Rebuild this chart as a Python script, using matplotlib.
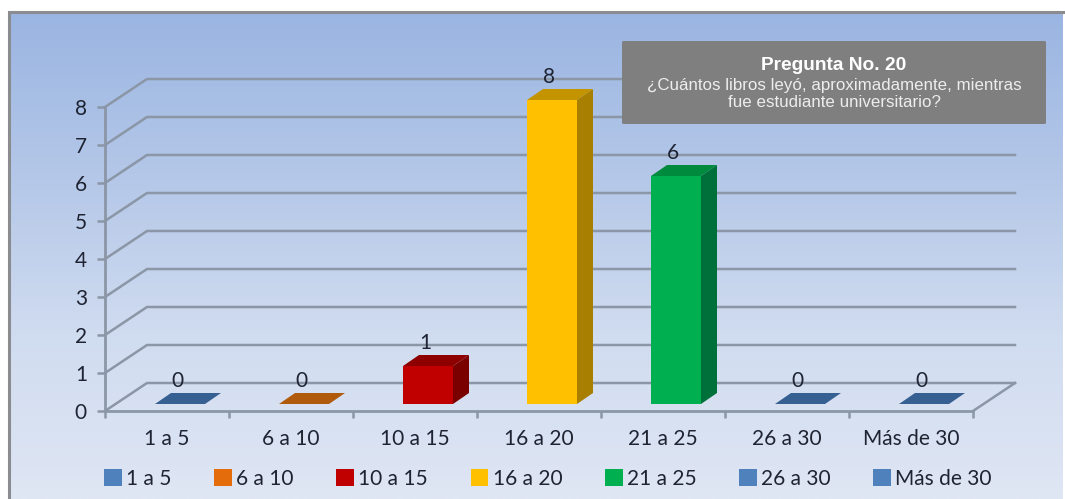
import matplotlib
matplotlib.use('Agg')
import matplotlib.pyplot as plt
import numpy as np
from matplotlib.colors import LinearSegmentedColormap
from matplotlib.patches import Polygon, Patch, FancyBboxPatch

categories = ['1 a 5', '6 a 10', '10 a 15', '16 a 20', '21 a 25', '26 a 30', 'Más de 30']
values = [0, 0, 1, 8, 6, 0, 0]
y_ticks = [0, 1, 2, 3, 4, 5, 6, 7, 8]
front_colors = ['#4F81BD', '#E46C0A', '#C00000', '#FFC000', '#00B050', '#4F81BD', '#4F81BD']
top_colors = ['#376092', '#B05A0C', '#8E0000', '#C49400', '#008A3E', '#376092', '#376092']
side_colors = ['#2E5380', '#96500A', '#7A0000', '#A87F00', '#00703A', '#2E5380', '#2E5380']
box_title = 'Pregunta No. 20'
box_line1 = '¿Cuántos libros leyó, aproximadamente, mientras'
box_line2 = 'fue estudiante universitario?'

W, H = 1065, 499
GRID = '#8B96A6'
TEXT = '#1F2433'

fig = plt.figure(figsize=(W / 100, H / 100), dpi=100, facecolor='white')

# background panel with the vertical gradient, in pixel coordinates
bg = fig.add_axes([0, 0, 1, 1])
bg.set_xlim(0, W)
bg.set_ylim(H, 0)
bg.axis('off')
cmap = LinearSegmentedColormap.from_list('panel', ['#9AB5E2', '#B4C7E8', '#D0DCF0', '#DFE6F4'])
grad = np.linspace(0, 1, 256).reshape(-1, 1)
bg.imshow(grad, cmap=cmap, extent=[8, W - 2, H, 11], aspect='auto', zorder=0)
bg.set_xlim(0, W)
bg.set_ylim(H, 0)
bg.plot([8.5, 8.5, W - 2], [H, 11.5, 11.5], color='#8A8C90', lw=2.2, zorder=1, solid_joinstyle='miter')

# chart axes: x in categories, y in values
x0, x1, y0, y8 = 105, 973, 411, 107
ax = fig.add_axes([x0 / W, 1 - y0 / H, (x1 - x0) / W, (y0 - y8) / H])
ax.set_xlim(0, 7)
ax.set_ylim(0, 8)
ax.patch.set_alpha(0)
for s in ax.spines.values():
    s.set_visible(False)

px = 7 / (x1 - x0)      # one pixel in x units
py = 8 / (y0 - y8)      # one pixel in y units
wall_x, wall_y = 42 * px, 28 * py
n = len(categories)

# gridlines on the side wall and back wall
for t in y_ticks:
    ax.plot([0, wall_x, n + wall_x], [t, t + wall_y, t + wall_y], color=GRID, lw=1.8,
            clip_on=False, zorder=1, solid_joinstyle='round')
ax.plot([n, n + wall_x], [0, wall_y], color=GRID, lw=1.8, clip_on=False, zorder=1)
ax.plot([0, n], [0, 0], color=GRID, lw=2, clip_on=False, zorder=2)
ax.plot([0, 0], [0, 8], color=GRID, lw=2, clip_on=False, zorder=2)

ax.set_xticks(range(n + 1))
ax.set_xticklabels([])
ax.set_yticks(y_ticks)
ax.set_yticklabels([str(t) for t in y_ticks], fontsize=15, color=TEXT, family='Lato')
ax.tick_params(axis='y', length=6, width=1.8, color=GRID, pad=7)
ax.tick_params(axis='x', length=5, width=1.8, color=GRID)
for i, c in enumerate(categories):
    ax.text(i + 0.5, -28 * py, c, ha='center', va='center', fontsize=15, color=TEXT, family='Lato')

# bars, drawn as oblique boxes
bar_w = 50 * px
off_x, off_y = 13 * px, 7 * py
dep_x, dep_y = 16 * px, 11 * py
for i, v in enumerate(values):
    left = i + 0.5 + off_x - bar_w / 2
    right = left + bar_w
    base = off_y
    top = v + off_y
    if v > 0:
        ax.add_patch(Polygon([(left, base), (right, base), (right, top), (left, top)],
                             fc=front_colors[i], ec='none', zorder=3, clip_on=False))
        ax.add_patch(Polygon([(right, base), (right + dep_x, base + dep_y),
                              (right + dep_x, top + dep_y), (right, top)],
                             fc=side_colors[i], ec='none', zorder=3, clip_on=False))
    ax.add_patch(Polygon([(left, top), (right, top), (right + dep_x, top + dep_y),
                          (left + dep_x, top + dep_y)],
                         fc=top_colors[i], ec='none', zorder=3, clip_on=False))
    ax.text(i + 0.5 + 10 * px, top + 23 * py, str(v), ha='center', va='center',
            fontsize=15, color=TEXT, family='Lato', zorder=4)

# question box
over = fig.add_axes([0, 0, 1, 1])
over.set_xlim(0, W)
over.set_ylim(H, 0)
over.axis('off')
over.add_patch(FancyBboxPatch((622, 41), 424, 83, boxstyle='round,pad=0,rounding_size=1.5',
                              fc='#7F7F7F', ec='none'))
over.text(834, 65, box_title, ha='center', va='center', color='white', fontsize=13.8,
          fontweight='bold', family='Liberation Sans')
over.text(834, 85, box_line1, ha='center', va='center', color='#EDEDED', fontsize=12.2,
          family='Liberation Sans')
over.text(834, 102, box_line2, ha='center', va='center', color='#EDEDED', fontsize=12.2,
          family='Liberation Sans')

# legend
handles = [Patch(fc=c, ec='none') for c in front_colors]
fig.legend(handles, categories, ncol=7, loc='center', bbox_to_anchor=(548 / W, 1 - 479 / H),
           frameon=False, labelcolor=TEXT, prop={'family': 'Lato', 'size': 15},
           handlelength=0.85, handleheight=0.85, handletextpad=0.2, columnspacing=2.05)

fig.savefig('out.png', dpi=100, facecolor='white')
